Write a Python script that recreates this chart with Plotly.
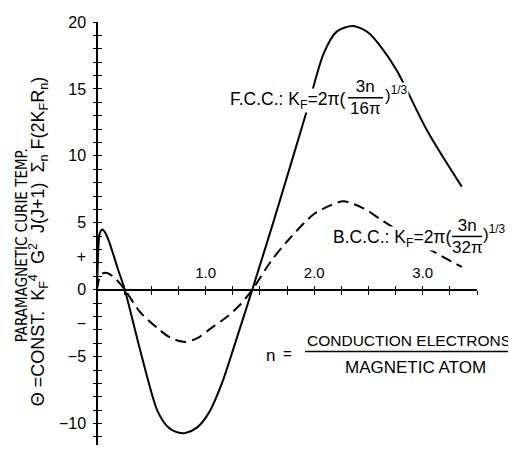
import plotly.graph_objects as go

# ---------------- data ----------------
n_fcc = [0.0, 0.012, 0.025, 0.05, 0.08, 0.124, 0.19, 0.256, 0.40, 0.554, 0.646, 0.72, 0.814,
         0.92, 1.03, 1.15, 1.28, 1.43, 1.63, 1.93, 2.09, 2.21, 2.36, 2.50, 2.61, 2.76, 3.04, 3.36]
theta_fcc = [0.0, 3.0, 4.2, 4.5, 4.2, 3.3, 1.6, 0.0, -4.6, -9.0, -10.2, -10.6, -10.7,
             -10.3, -9.2, -7.0, -3.8, 0.0, 5.2, 13.3, 17.7, 19.3, 19.7, 19.2, 18.2, 16.4, 11.9, 7.7]

n_bcc = [0.0, 0.02, 0.05, 0.094, 0.17, 0.256, 0.40, 0.554, 0.68, 0.814, 0.93, 1.03, 1.20, 1.32,
         1.43, 1.60, 1.75, 1.99, 2.15, 2.27, 2.45, 2.64, 3.0, 3.36]
theta_bcc = [0.0, 0.8, 1.2, 1.25, 0.83, 0.0, -1.7, -2.85, -3.6, -3.9, -3.6, -3.0, -2.0, -1.1,
             0.0, 2.1, 3.6, 5.6, 6.3, 6.6, 6.1, 5.1, 3.3, 1.7]

y_tick_vals = [20, 15, 10, 5, 2.5, 0, -2.5, -5, -10]
y_tick_text = ["20", "15", "10", "5", "+", "0", "\u2212", "\u22125", "\u221210"]
y_minor_ticks = list(range(-11, 21))
x_tick_vals = [1, 2, 3]
x_tick_text = ["1.0", "2.0", "3.0"]
x_minor_ticks = [0.25 * i for i in range(1, 15)]

# ---------------- layout geometry ----------------
OFF = 8                      # default page (body) margin around the plot div
W, H = 516 - OFF, 451 - OFF
PLOT_L, PLOT_T = 97, 15      # page pixels of the plot area corners
PW, PH = 380, 430
L, T = PLOT_L - OFF, PLOT_T - OFF
R, B = W - L - PW, H - T - PH
x_range = [0, 3.5]
y_range = [-11.6, 20]
zero_frac = (0 - y_range[0]) / (y_range[1] - y_range[0])

def fx(p):
    return (p - PLOT_L) / PW

def fy(p):
    return (PLOT_T + PH - p) / PH

FONT_N = "Liberation Sans Narrow, DejaVu Sans Condensed, Liberation Sans, Arial, sans-serif"
FONT = "Liberation Sans, Arial, sans-serif"

fig = go.Figure()
fig.add_trace(go.Scatter(x=n_fcc, y=theta_fcc, mode="lines",
                         line=dict(color="black", width=2, shape="spline", smoothing=0.8),
                         hoverinfo="skip", showlegend=False))
fig.add_trace(go.Scatter(x=n_bcc, y=theta_bcc, mode="lines",
                         line=dict(color="black", width=2, dash="11px,6px", shape="spline", smoothing=0.8),
                         hoverinfo="skip", showlegend=False))
# dummy traces so the tick-only overlay axes are drawn
fig.add_trace(go.Scatter(x=[None], y=[None], xaxis="x2", yaxis="y2", showlegend=False, hoverinfo="skip"))
fig.add_trace(go.Scatter(x=[None], y=[None], xaxis="x3", yaxis="y3", showlegend=False, hoverinfo="skip"))

common = dict(showgrid=False, zeroline=False)
fig.update_layout(
    width=W, height=H, margin=dict(l=L, r=R, t=T, b=B),
    paper_bgcolor="white", plot_bgcolor="white",
    xaxis=dict(range=x_range, anchor="free", position=zero_frac, side="top",
               showline=True, linecolor="black", linewidth=1.5,
               tickvals=x_tick_vals, ticktext=x_tick_text, ticks="",
               tickfont=dict(family=FONT, size=15, color="black"),
               ticklabelstandoff=5, ticklabeloverflow="allow", **common),
    xaxis2=dict(range=x_range, overlaying="x", anchor="free", position=zero_frac, side="bottom",
                tickvals=x_minor_ticks, ticks="outside", ticklen=4, tickwidth=1.3, tickcolor="black",
                showticklabels=False, showline=False, **common),
    xaxis3=dict(range=x_range, overlaying="x", anchor="free", position=zero_frac, side="bottom",
                tickvals=x_minor_ticks, ticks="inside", ticklen=4, tickwidth=1.3, tickcolor="black",
                showticklabels=False, showline=False, **common),
    yaxis=dict(range=y_range, anchor="free", position=0,
               showline=True, linecolor="black", linewidth=1.5,
               tickvals=y_tick_vals, ticktext=y_tick_text, ticks="",
               tickfont=dict(family=FONT, size=16, color="black"),
               ticklabelstandoff=7, ticklabeloverflow="allow", **common),
    yaxis2=dict(range=y_range, overlaying="y", anchor="free", position=0, side="left",
                tickvals=y_minor_ticks, ticks="outside", ticklen=4, tickwidth=1.3, tickcolor="black",
                showticklabels=False, showline=False, **common),
    yaxis3=dict(range=y_range, overlaying="y", anchor="free", position=0, side="left",
                tickvals=y_minor_ticks, ticks="inside", ticklen=4, tickwidth=1.3, tickcolor="black",
                showticklabels=False, showline=False, **common),
)

def ann(text, x, y, xanchor="center", size=16, family=FONT, angle=0, bg=None):
    d = dict(text=text, x=fx(x), y=fy(y), xref="paper", yref="paper",
             xanchor=xanchor, yanchor="middle", showarrow=False, textangle=angle,
             font=dict(family=family, size=size, color="black"), borderpad=0)
    if bg:
        d["bgcolor"] = bg
    fig.add_annotation(**d)

def bar(x0, x1, y):
    fig.add_shape(type="line", xref="paper", yref="paper", x0=fx(x0), x1=fx(x1), y0=fy(y), y1=fy(y),
                  line=dict(color="black", width=1.5), layer="above")

# F.C.C. label
ann("F.C.C.: K<sub>F</sub>=2\u03c0(", 347, 95, xanchor="right", size=17.5, bg="white")
ann("3n<br>16\u03c0", 365, 92, size=17)
bar(348, 383, 92)
ann(")<sup>1/3</sup>", 384, 88, xanchor="left", size=17, bg="white")

# B.C.C. label
ann("B.C.C.: K<sub>F</sub>=2\u03c0(", 452, 235, xanchor="right", size=17.5, bg="white")
ann("3n<br>32\u03c0", 467, 233, size=17)
bar(452, 482, 233)
ann(")<sup>1/3</sup>", 482, 229, xanchor="left", size=17, bg="white")

# n = conduction electrons / magnetic atom
ann("n", 270, 354, size=17)
ann("=", 287, 352, size=15)
ann("CONDUCTION ELECTRONS", 409, 339, size=15.5)
bar(305, 513, 350)
ann("MAGNETIC ATOM", 415, 366, size=17)

# y-axis title (two rotated lines)
NB = "\u00a0"
ann("PARAMAGNETIC CURIE TEMP.", 22, 242, size=15, family=FONT_N, angle=-90)
ann("\u0398" + NB + "=CONST." + NB * 2 + "K<sub>F</sub><sup>4</sup>" + NB * 2 + "G<sup>2</sup>" + NB * 2
    + "J(J+1)" + NB * 2 + "\u03a3<sub>n</sub>" + NB + "F(2K<sub>F</sub>R<sub>n</sub>)",
    38, 238, size=18, angle=-90)

fig.write_html("out.html")
